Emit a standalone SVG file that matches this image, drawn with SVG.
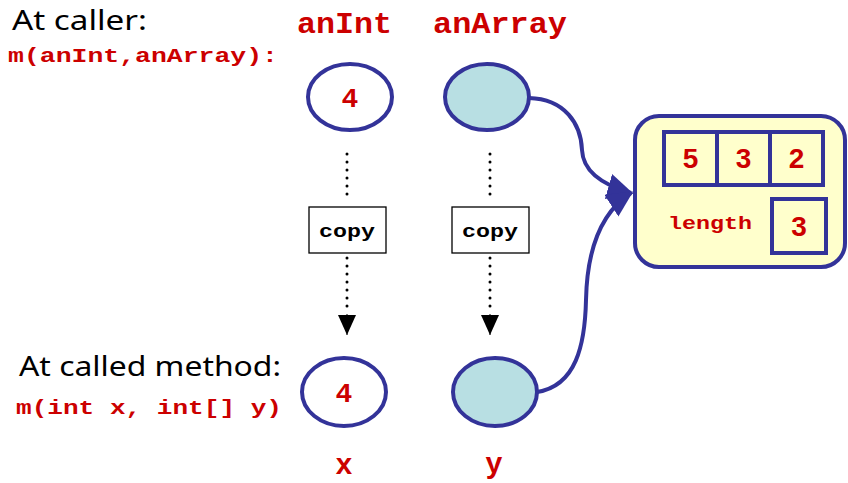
<svg xmlns="http://www.w3.org/2000/svg" width="848" height="483" viewBox="0 0 848 483">
<style>
.lbl{font-family:"Noto Sans","DejaVu Sans",sans-serif;font-size:27px;fill:#000}
.code{font-family:"Liberation Mono","Courier New",monospace;font-weight:bold;fill:#cc0000}
.num{font-family:"Liberation Sans",Arial,sans-serif;font-weight:bold;fill:#cc0000;font-size:28px;text-anchor:middle}
.var{stroke:#333399;stroke-width:4}
.cell{fill:none;stroke:#333399;stroke-width:4}
.copy{fill:#fff;stroke:#000;stroke-width:1.3}
.copytxt{font-family:"Liberation Mono","Courier New",monospace;font-weight:bold;fill:#000;font-size:19px}
.dots{stroke:#000;stroke-width:3;stroke-linecap:round;stroke-dasharray:0 8;fill:none}
.ref{fill:none;stroke:#333399;stroke-width:4}
</style>
<defs>
<marker id="blueArrow" viewBox="0 0 10 10" refX="9" refY="5" markerWidth="6.5" markerHeight="6.5" markerUnits="strokeWidth" orient="auto">
<path d="M0,0 L10,5 L0,10 z" fill="#333399"/>
</marker>
<marker id="blackArrow" viewBox="0 0 10 10" refX="10" refY="5" markerWidth="20" markerHeight="20" markerUnits="userSpaceOnUse" orient="auto">
<path d="M0,0.5 L10,5 L0,9.5 z" fill="#000"/>
</marker>
</defs>

<g id="labels">
<text class="lbl" x="12" y="30" textLength="135" lengthAdjust="spacingAndGlyphs">At caller:</text>
<text class="code" x="8" y="62" font-size="21" textLength="270" lengthAdjust="spacingAndGlyphs">m(anInt,anArray):</text>
<text class="lbl" x="19" y="376" textLength="262" lengthAdjust="spacingAndGlyphs">At called method:</text>
<text class="code" x="16" y="414" font-size="21" textLength="266" lengthAdjust="spacingAndGlyphs">m(int x, int[] y)</text>
</g>

<g id="anInt">
<text class="code" x="297" y="33" font-size="29" textLength="95" lengthAdjust="spacingAndGlyphs">anInt</text>
<ellipse class="var" cx="350" cy="97" rx="42" ry="33" fill="#fff"/>
<text class="code" x="350" y="107" font-size="28" text-anchor="middle">4</text>
</g>

<g id="anArray">
<text class="code" x="433" y="33" font-size="29" textLength="134" lengthAdjust="spacingAndGlyphs">anArray</text>
<ellipse class="var" cx="487" cy="97" rx="42" ry="33" fill="#b8dfe3"/>
</g>

<g id="copy1">
<rect class="copy" x="309" y="207" width="77" height="46"/>
<text class="copytxt" x="319" y="237" textLength="56" lengthAdjust="spacingAndGlyphs">copy</text>
</g>

<g id="copy2">
<rect class="copy" x="452" y="207" width="77" height="46"/>
<text class="copytxt" x="462" y="237" textLength="56" lengthAdjust="spacingAndGlyphs">copy</text>
</g>

<g id="x">
<ellipse class="var" cx="344" cy="392" rx="42" ry="34" fill="#fff"/>
<text class="code" x="344" y="402" font-size="28" text-anchor="middle">4</text>
<text class="code" x="344" y="474" font-size="29" text-anchor="middle">x</text>
</g>

<g id="y">
<ellipse class="var" cx="495" cy="392" rx="42" ry="34" fill="#b8dfe3"/>
<text class="code" x="494" y="473" font-size="29" text-anchor="middle">y</text>
</g>

<g id="array">
<rect x="635" y="116" width="210" height="151" rx="24" ry="24" fill="#ffffcc" stroke="#333399" stroke-width="4"/>
<rect class="cell" x="664" y="132" width="53" height="53"/>
<rect class="cell" x="717" y="132" width="53" height="53"/>
<rect class="cell" x="770" y="132" width="53" height="53"/>
<text class="num" x="690.5" y="168">5</text>
<text class="num" x="743.5" y="168">3</text>
<text class="num" x="796.5" y="168">2</text>
<text class="code" x="668" y="229" font-size="18" textLength="84" lengthAdjust="spacingAndGlyphs">length</text>
<rect class="cell" x="772" y="199" width="54" height="54"/>
<text class="num" x="799" y="236">3</text>
</g>

<g id="connectors">
<line class="dots" x1="347" y1="154" x2="347" y2="202"/>
<line class="dots" x1="347" y1="258" x2="347" y2="314"/>
<line x1="347" y1="314" x2="347" y2="335" stroke="#000" stroke-width="1" marker-end="url(#blackArrow)"/>
<line class="dots" x1="490" y1="154" x2="490" y2="202"/>
<line class="dots" x1="490" y1="258" x2="490" y2="314"/>
<line x1="490" y1="314" x2="490" y2="335" stroke="#000" stroke-width="1" marker-end="url(#blackArrow)"/>
<path class="ref" d="M529,98 C565,99 581,124 582,150 C583,172 603,185 631,193" marker-end="url(#blueArrow)"/>
<path class="ref" d="M537,392 C576,386 585,345 586,300 C587,250 600,213 631,193" marker-end="url(#blueArrow)"/>
</g>
</svg>
